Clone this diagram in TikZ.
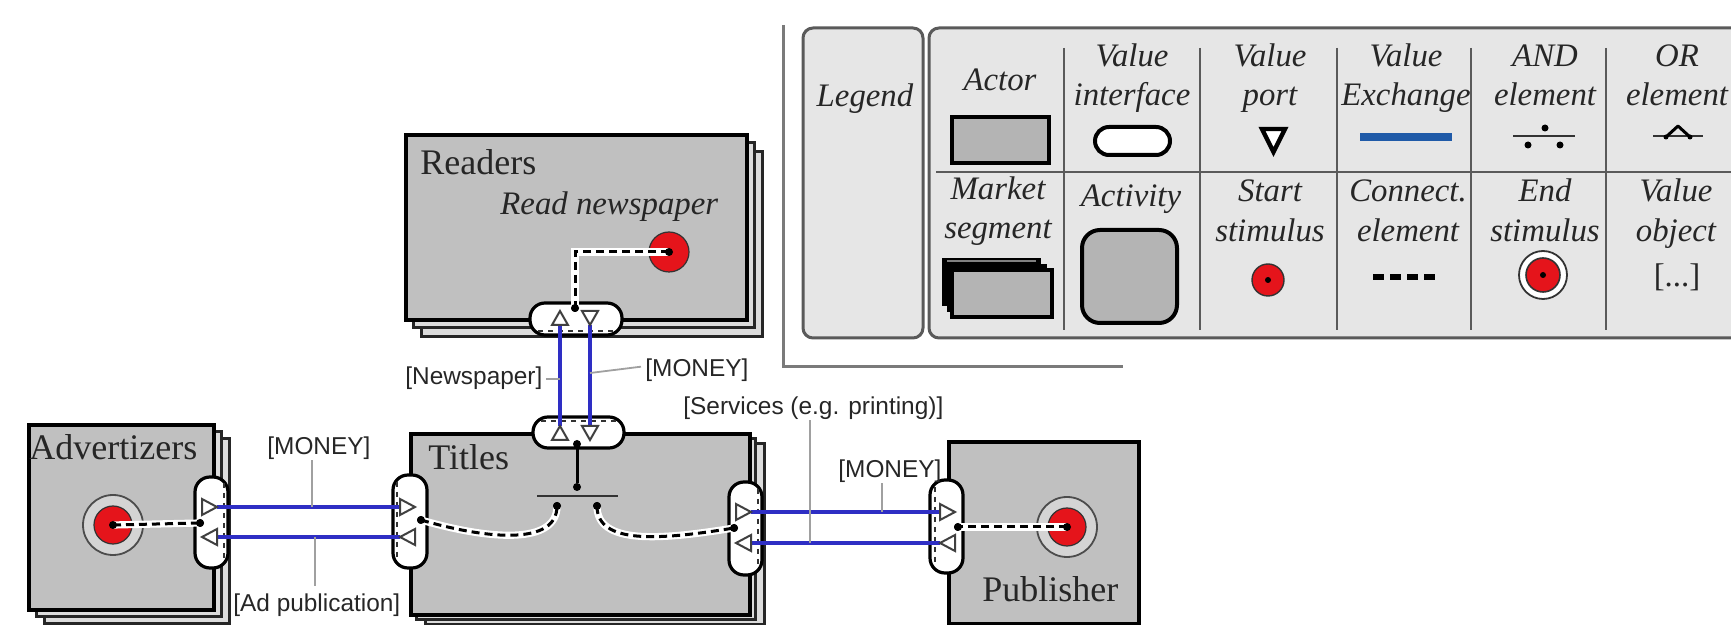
\documentclass[tikz,border=0pt]{standalone}
\usepackage{fontspec}
\setmainfont{Liberation Serif}
\newfontfamily\labfont{Liberation Sans}
\definecolor{actorfill}{HTML}{C0C0C0}
\definecolor{backfill}{HTML}{DCDCDC}
\definecolor{legactor}{HTML}{B4B4B4}
\definecolor{legendfill}{HTML}{E6E6E6}
\definecolor{legendline}{HTML}{5A5A5A}
\definecolor{framegray}{HTML}{7A7A7A}
\definecolor{exchblue}{HTML}{2E2EC4}
\definecolor{legendblue}{HTML}{1F5AA8}
\definecolor{stimred}{HTML}{E5141B}
\definecolor{ringfill}{HTML}{D4D4D4}
\definecolor{leadergray}{HTML}{A0A0A0}
\definecolor{textdark}{HTML}{262626}
\tikzset{
  frontbox/.style={rectangle, fill=actorfill, draw=black, line width=2pt, inner sep=0pt, anchor=north west},
  backbox/.style={rectangle, fill=backfill, draw=black!85, line width=1.3pt, inner sep=0pt, anchor=north west},
  pill/.style={rectangle, fill=white, draw=black, line width=1.6pt, rounded corners=7.5pt, inner sep=0pt},
  pilldash/.style={draw=black!80, line width=0.8pt, dash pattern=on 2.5pt off 2.5pt},
  porttri/.style={fill=white, draw=black!75, line width=1pt, line join=miter},
  exch/.style={draw=exchblue, line width=2pt},
  conn/.style={draw=black, line width=1.5pt, dash pattern=on 4pt off 2.5pt,
    preaction={draw=white, line width=3.6pt, solid}},
  andline/.style={draw=black, line width=1.5pt},
  leader/.style={draw=leadergray, line width=0.9pt},
  lbl/.style={font=\labfont\fontsize{12.2}{14}\selectfont, text=textdark, inner sep=0pt},
  aname/.style={font=\fontsize{18}{20}\selectfont, text=textdark, inner sep=0pt, anchor=base west},
  acttxt/.style={font=\fontsize{16.4}{19}\selectfont\itshape, text=textdark, inner sep=0pt, anchor=base west},
  lgtxt/.style={font=\fontsize{16.4}{19}\selectfont\itshape, text=textdark, inner sep=0pt, anchor=base},
  dot/.style={circle, fill=black, inner sep=0pt, minimum size=4pt},
  stim/.style={circle, fill=stimred, draw=black!80, line width=0.6pt, inner sep=0pt},
  ring/.style={circle, fill=ringfill, draw=black!70, line width=0.9pt, inner sep=0pt, minimum size=30pt},
  legbox/.style={fill=legendfill, draw=legendline, line width=1.5pt, rounded corners=5pt},
  legsep/.style={draw=legendline, line width=1.2pt},
}
\begin{document}
\begin{tikzpicture}[x=0.5pt,y=-0.5pt]
\useasboundingbox (0,0) rectangle (1731,625);
\clip (0,0) rectangle (1731,625);

% ---------------- legend ----------------
\draw[framegray, line width=1.5pt] (783,25) -- (783,367) -- (1123,367);
\draw[legbox] (803,28) rectangle (923,338);
\draw[legbox] (1745,28) -- (929,28) -- (929,338) -- (1745,338);
\draw[legsep] (936,172) -- (1731,172);
\foreach \cx in {1064,1200,1337,1471,1606} \draw[legsep] (\cx,48) -- (\cx,330);

\node[lgtxt] (lgTitle) at (865,107) {Legend};
\node[lgtxt] (lgActor) at (1000,91) {Actor};
\node[lgtxt] (lgVi1) at (1132,67) {Value};
\node[lgtxt] (lgVi2) at (1132,106) {interface};
\node[lgtxt] (lgVp1) at (1270,67) {Value};
\node[lgtxt] (lgVp2) at (1270,106) {port};
\node[lgtxt] (lgVe1) at (1406,67) {Value};
\node[lgtxt] (lgVe2) at (1406,106) {Exchange};
\node[lgtxt] (lgAnd1) at (1545,67) {AND};
\node[lgtxt] (lgAnd2) at (1545,106) {element};
\node[lgtxt] (lgOr1) at (1677,67) {OR};
\node[lgtxt] (lgOr2) at (1677,106) {element};
\node[lgtxt] (lgMs1) at (998,200) {Market};
\node[lgtxt] (lgMs2) at (998,239) {segment};
\node[lgtxt] (lgAct) at (1131,207) {Activity};
\node[lgtxt] (lgSs1) at (1270,202) {Start};
\node[lgtxt] (lgSs2) at (1270,242) {stimulus};
\node[lgtxt] (lgCe1) at (1408,202) {Connect.};
\node[lgtxt] (lgCe2) at (1408,242) {element};
\node[lgtxt] (lgEs1) at (1545,202) {End};
\node[lgtxt] (lgEs2) at (1545,242) {stimulus};
\node[lgtxt] (lgVo1) at (1676,202) {Value};
\node[lgtxt] (lgVo2) at (1676,242) {object};
\node[lgtxt, font=\fontsize{16.4}{19}\selectfont] (lgVo3) at (1677,287) {[...]};

% legend symbols
\draw[fill=legactor, line width=2pt] (952,117) rectangle (1049,163);
\draw[fill=white, line width=2pt, rounded corners=7pt] (1095,127) rectangle (1170,155);
\draw[fill=white, line width=2.2pt, line join=miter] (1262,129) -- (1285,129) -- (1273.5,152) -- cycle;
\draw[legendblue, line width=4pt] (1360,137) -- (1452,137);
\draw[black!80, line width=1pt] (1513,136) -- (1575,136);
\fill (1545,128) circle (3.5) (1528,145) circle (3.5) (1560,145) circle (3.5);
\draw[black!80, line width=1pt] (1653,136) -- (1703,136);
\draw[line width=1.5pt, line join=round] (1666,137) -- (1678,126) -- (1690,137);
\fill (1666,137) circle (2.5) (1690,137) circle (2.5);

\draw[fill=black] (942,258) rectangle (1040,305);
\draw[fill=black, draw=black] (947,264) rectangle (1046,311);
\draw[gray, line width=0.6pt] (947,261) -- (1036,261);
\draw[fill=legactor, line width=2pt] (952,270) rectangle (1052,317);
\draw[fill=legactor, line width=2pt, rounded corners=9pt] (1082,230) rectangle (1177,323);
\draw[fill=stimred, draw=black!80, line width=0.7pt] (1268,280) circle (16);
\fill (1268,280) circle (3);
\draw[line width=2.6pt, dash pattern=on 5.5pt off 3pt] (1373,277) -- (1435,277);
\draw[fill=white, draw=black!80, line width=0.9pt] (1543,275) circle (24);
\draw[fill=stimred, draw=black!80, line width=0.8pt] (1543,275) circle (17);
\fill (1543,275) circle (3);

% ---------------- actors ----------------
\node[backbox, minimum width=170.5pt, minimum height=92.5pt] (readersB2) at (420,150) {};
\node[backbox, minimum width=170.5pt, minimum height=92.5pt] (readersB1) at (412,141) {};
\node[frontbox, minimum width=170.5pt, minimum height=92.5pt] (readers) at (404,133) {};

\node[backbox, minimum width=169.5pt, minimum height=90.5pt] (titlesB2) at (424,442) {};
\node[backbox, minimum width=169.5pt, minimum height=90.5pt] (titlesB1) at (415,437) {};
\node[frontbox, minimum width=169.5pt, minimum height=90.5pt] (titles) at (409,432) {};

\node[backbox, minimum width=92.5pt, minimum height=92.5pt] (advB2) at (43,437) {};
\node[backbox, minimum width=92.5pt, minimum height=92.5pt] (advB1) at (35,430) {};
\node[frontbox, minimum width=92.5pt, minimum height=92.5pt] (adv) at (27,423) {};

\node[frontbox, minimum width=95pt, minimum height=91pt] (pub) at (947,440) {};

\node[aname] (readersName) at (420,175) {Readers};
\node[acttxt] (readAct) at (500,215) {Read newspaper};
\node[aname] (titlesName) at (428,470) {Titles};
\node[aname] (advName) at (29,460) {Advertizers};
\node[aname] (pubName) at (982,602) {Publisher};

% ---------------- value interfaces ----------------
\node[pill, minimum width=46pt, minimum height=16pt] (rIf) at (576,319) {};
\node[pill, minimum width=45.5pt, minimum height=15.5pt] (tTopIf) at (578.5,432.5) {};
\node[pill, minimum width=16.5pt, minimum height=45.5pt] (aIf) at (211.5,522.5) {};
\node[pill, minimum width=17pt, minimum height=46.5pt] (tLIf) at (410,521.5) {};
\node[pill, minimum width=16.5pt, minimum height=46.5pt] (tRIf) at (745.5,528.5) {};
\node[pill, minimum width=16.5pt, minimum height=46.5pt] (pIf) at (946.5,526.5) {};

\draw[pilldash] (538,331) -- (614,331);
\draw[pilldash] (541,421) -- (616,421);
\draw[pilldash] (224,483) -- (224,562);
\draw[pilldash] (397,482) -- (397,561);
\draw[pilldash] (758,489) -- (758,568);
\draw[pilldash] (935,487) -- (935,566);

% ---------------- stimuli ----------------
\node[stim, minimum size=20pt] (rStim) at (669,252) {};
\node[ring] (aRing) at (113,525) {};
\node[stim, minimum size=19pt] (aStim) at (113,525) {};
\node[ring] (pRing) at (1067,527) {};
\node[stim, minimum size=19pt] (pStim) at (1067,527) {};

% connection points
\node[dot] (rDot) at (575,308) {};
\node[dot] (tTopDot) at (577,444) {};
\node[dot] (tAndIn) at (577,487) {};
\node[dot] (tAndL) at (557,506) {};
\node[dot] (tAndR) at (597,506) {};
\node[dot] (tLDot) at (421,520) {};
\node[dot] (tRDot) at (734,528) {};
\node[dot] (aDot) at (200,523) {};
\node[dot] (pDot) at (958,527) {};

% AND element inside Titles
\draw[black!80, line width=1.2pt] (537,496) -- (618,496);
\draw[andline] (tTopDot) -- (tAndIn);

% dependency paths
\draw[conn] (rStim.center) -| (rDot.center);
\draw[conn] (aStim.center) -- (aDot.center);
\draw[conn] (pStim.center) -- (pDot.center);
\draw[conn] (tLDot.center) .. controls (490,540) and (557,545) .. (tAndL.center);
\draw[conn] (tAndR.center) .. controls (597,545) and (660,540) .. (tRDot.center);
\foreach \n in {rDot,aDot,pDot,tLDot,tRDot,tAndL,tAndR} \fill (\n) circle (4);
\foreach \n in {rStim,aStim,pStim} \fill (\n) circle (4);

% ---------------- value exchanges ----------------
\coordinate (tNewsOut) at (560,426);
\coordinate (rNewsIn) at (560,325);
\coordinate (rMoneyOut) at (590,325);
\coordinate (tMoneyIn) at (590,426);
\coordinate (aMoneyOut) at (217,507);
\coordinate (tMoneyInL) at (400,507);
\coordinate (tAdOut) at (400,537);
\coordinate (aAdIn) at (217,537);
\coordinate (tMoneyOutR) at (751,512);
\coordinate (pMoneyIn) at (940,512);
\coordinate (pServOut) at (940,543);
\coordinate (tServIn) at (751,543);

\draw[exch] (tNewsOut) -- (rNewsIn);
\draw[exch] (rMoneyOut) -- (tMoneyIn);
\draw[exch] (aMoneyOut) -- (tMoneyInL);
\draw[exch] (tAdOut) -- (aAdIn);
\draw[exch] (tMoneyOutR) -- (pMoneyIn);
\draw[exch] (pServOut) -- (tServIn);

% value ports
\draw[porttri] (552,325) -- (568,325) -- (560,311) -- cycle;
\draw[porttri] (582,311) -- (598,311) -- (590,325) -- cycle;
\draw[porttri] (552,440) -- (568,440) -- (560,426) -- cycle;
\draw[porttri] (582,426) -- (598,426) -- (590,440) -- cycle;
\draw[porttri] (202,499) -- (202,515) -- (217,507) -- cycle;
\draw[porttri] (217,529) -- (217,545) -- (202,537) -- cycle;
\draw[porttri] (400,499) -- (400,515) -- (415,507) -- cycle;
\draw[porttri] (415,529) -- (415,545) -- (400,537) -- cycle;
\draw[porttri] (736,504) -- (736,520) -- (751,512) -- cycle;
\draw[porttri] (751,535) -- (751,551) -- (736,543) -- cycle;
\draw[porttri] (940,504) -- (940,520) -- (955,512) -- cycle;
\draw[porttri] (955,535) -- (955,551) -- (940,543) -- cycle;

% ---------------- value object labels ----------------
\node[lbl, anchor=base west] (lNews) at (405,385) {[Newspaper]};
\node[lbl, anchor=base west] (lMoneyTop) at (645,377) {[MONEY]};
\node[lbl, anchor=base west] (lServ) at (683,415) {[Services (e.g. printing)]};
\node[lbl, anchor=base west] (lMoneyR) at (838,478) {[MONEY]};
\node[lbl, anchor=base west] (lMoneyL) at (267,455) {[MONEY]};
\node[lbl, anchor=base west] (lAd) at (233,612) {[Ad publication]};

\coordinate (newsTap) at (560,374);
\coordinate (moneyTopTap) at (590,373);
\coordinate (servTap) at (810,543);
\coordinate (moneyRTap) at (882,512);
\coordinate (moneyLTap) at (312,507);
\coordinate (adTap) at (315,537);

\draw[leader] ([xshift=1.5pt]lNews.east) -- (newsTap |- lNews.east);
\draw[leader] (moneyTopTap) -- ([xshift=-2pt,yshift=2pt]lMoneyTop.west);
\draw[leader] (servTap) -- (servTap |- lServ.south);
\draw[leader] (moneyRTap) -- (moneyRTap |- lMoneyR.south);
\draw[leader] (moneyLTap) -- (moneyLTap |- lMoneyL.south);
\draw[leader] (adTap) -- ([yshift=4pt]adTap |- lAd.north);
\end{tikzpicture}
\end{document}
